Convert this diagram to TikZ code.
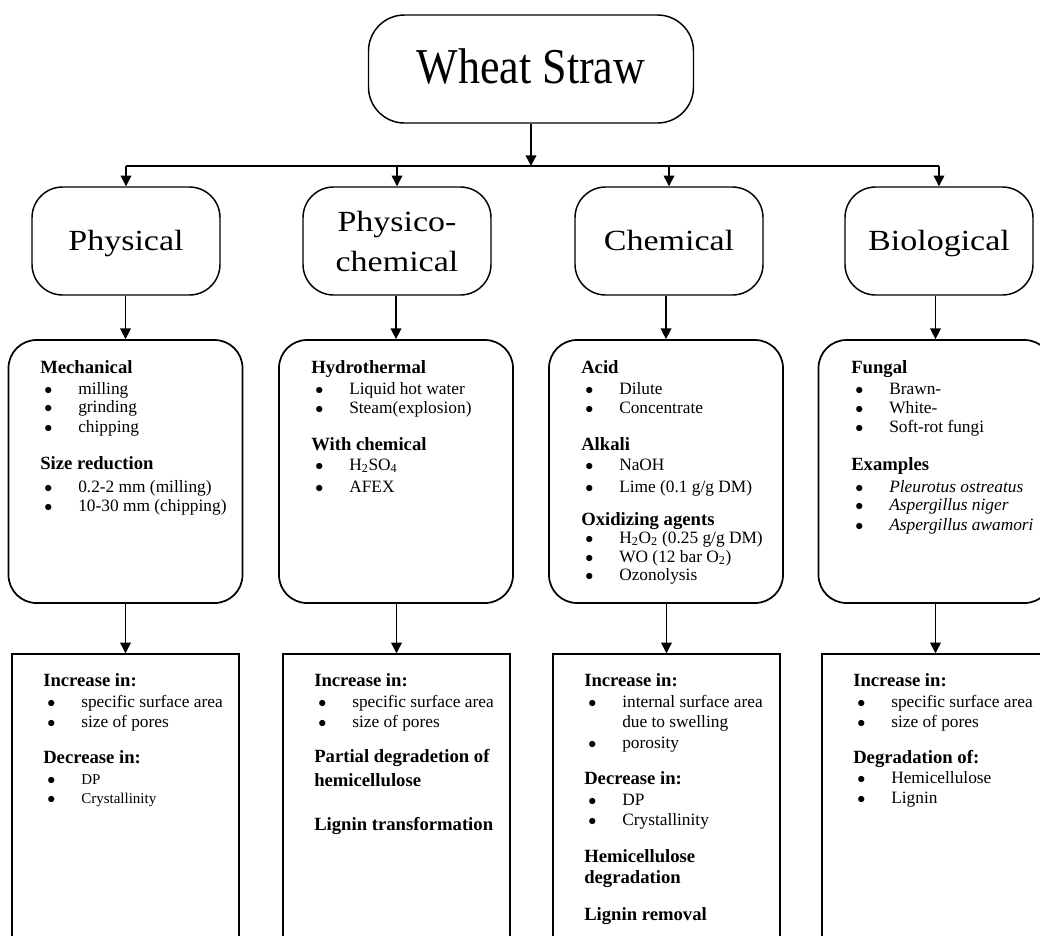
\documentclass[tikz,border=0pt]{standalone}
\usepackage{fontspec}
\setmainfont{Liberation Serif}
\usetikzlibrary{arrows.meta}
\newcommand{\bul}{\makebox[28.5pt][l]{\fontsize{13}{13}\selectfont\hspace{3pt}$\bullet$}}
\newcommand{\HL}[2]{{\fontsize{14}{#1}\selectfont\bfseries #2\par}}
\newcommand{\IL}[2]{{\fontsize{13}{#1}\selectfont\bul#2\par}}
\newcommand{\SL}[2]{{\fontsize{11.25}{#1}\selectfont\bul#2\par}}
\newcommand{\CL}[2]{{\fontsize{13}{#1}\selectfont\hspace*{28.5pt}#2\par}}
\newcommand{\Tx}[1]{\begin{minipage}[t]{160pt}\setlength{\parindent}{0pt}\setlength{\parskip}{0pt}#1\end{minipage}}
\newcommand{\cs}[1]{\scalebox{1}[0.86]{#1}}
\begin{document}
\begin{tikzpicture}[x=0.75pt,y=-0.75pt,
  topbox/.style={draw, line width=1.1pt, rounded corners=27pt, inner sep=0pt,
    minimum width=243.75pt, minimum height=81pt, text height=25.5pt, text depth=4.5pt,
    font=\fontsize{33}{38}\selectfont},
  catbox/.style={draw, line width=1.1pt, rounded corners=23pt, inner sep=0pt, align=center,
    minimum width=141pt, minimum height=81pt, font=\fontsize{25.5}{30}\selectfont},
  oneline/.style={text height=16pt, text depth=2pt},
  detbox/.style={draw, line width=1.3pt, rounded corners=21pt, inner sep=0pt,
    minimum width=175.5pt, minimum height=197.25pt},
  resbox/.style={draw, line width=1.1pt, inner sep=0pt,
    minimum width=170.25pt, minimum height=229.5pt},
  txt/.style={anchor=base west, inner sep=0pt},
  arr/.style={line width=1pt, -{Triangle[length=8pt,width=8pt]}},
  ln/.style={line width=1pt}]
\useasboundingbox (0,0) rectangle (1040,936);

\node[topbox] (ws) at (531,69) {\scalebox{1}[1.14]{Wheat Straw}};

\node[catbox, oneline] (c1) at (126,241) {\cs{Physical}};
\node[catbox] (c2) at (397,241) {\cs{Physico-}\\\cs{chemical}};
\node[catbox, oneline] (c3) at (669,241) {\cs{Chemical}};
\node[catbox, oneline] (c4) at (939,241) {\cs{Biological}};

\node[detbox] (d1) at (125.5,471.5) {};
\node[detbox] (d2) at (396,471.5) {};
\node[detbox] (d3) at (666,471.5) {};
\node[detbox] (d4) at (935.5,471.5) {};

\node[resbox] (r1) at (125.5,807) {};
\node[resbox] (r2) at (396.5,807) {};
\node[resbox] (r3) at (666.5,807) {};
\node[resbox] (r4) at (935.5,807) {};

\coordinate (j) at (531,166);
\draw[arr] (ws.south) -- (j);
\draw[ln] (c1.north |- j) -- (c4.north |- j);
\foreach \i in {1,2,3,4}{
  \draw[arr] (c\i.north |- j) -- (c\i.north);
  \draw[arr] (d\i.north |- c\i.south) -- (d\i.north);
  \draw[arr] (r\i.north |- d\i.south) -- (r\i.north);
}

\node[txt] (t1) at (40,373) {\Tx{%
\HL{16}{Mechanical}
\IL{15.75}{milling}
\IL{13.5}{grinding}
\IL{15}{chipping}
\HL{27.75}{Size reduction}
\IL{17.25}{0.2-2 mm (milling)}
\IL{14.25}{10-30 mm (chipping)}}};

\node[txt] (t2) at (311,373) {\Tx{%
\HL{16}{Hydrothermal}
\IL{15.75}{Liquid hot water}
\IL{14.25}{Steam(explosion)}
\HL{27.75}{With chemical}
\IL{15}{H\textsubscript{2}SO\textsubscript{4}}
\IL{16.5}{AFEX}}};

\node[txt] (t3) at (581,373) {\Tx{%
\HL{16}{Acid}
\IL{15.75}{Dilute}
\IL{14.25}{Concentrate}
\HL{27.75}{Alkali}
\IL{15}{NaOH}
\IL{16.5}{Lime (0.1 g/g DM)}
\HL{24.75}{Oxidizing agents}
\IL{13.5}{H\textsubscript{2}O\textsubscript{2} (0.25 g/g DM)}
\IL{14.25}{WO (12 bar O\textsubscript{2})}
\IL{13.5}{Ozonolysis}}};

\node[txt] (t4) at (851,373) {\Tx{%
\HL{16}{Fungal}
\IL{15.75}{Brawn-}
\IL{14.25}{White-}
\IL{14.25}{Soft-rot fungi}
\HL{28.5}{Examples}
\IL{16.5}{\textit{Pleurotus ostreatus}}
\IL{13.5}{\textit{Aspergillus niger}}
\IL{15}{\textit{Aspergillus awamori}}}};

\node[txt] (u1) at (43,686) {\Tx{%
\HL{16}{Increase in:}
\IL{15.75}{specific surface area}
\IL{15}{size of pores}
\HL{27}{Decrease in:}
\SL{15.75}{DP}
\SL{14.25}{Crystallinity}}};

\node[txt] (u2) at (314,686) {\Tx{%
\HL{16}{Increase in:}
\IL{15.75}{specific surface area}
\IL{15}{size of pores}
\HL{26.25}{Partial degradetion of}
\HL{18}{hemicellulose}
\HL{33}{Lignin transformation}}};

\node[txt] (u3) at (584,686) {\Tx{%
\HL{16}{Increase in:}
\IL{15.75}{internal surface area}
\CL{15}{due to swelling}
\IL{15.75}{porosity}
\HL{27}{Decrease in:}
\IL{15.75}{DP}
\IL{15}{Crystallinity}
\HL{27.75}{Hemicellulose}
\HL{15.75}{degradation}
\HL{27.75}{Lignin removal}}};

\node[txt] (u4) at (853,686) {\Tx{%
\HL{16}{Increase in:}
\IL{15.75}{specific surface area}
\IL{15}{size of pores}
\HL{27}{Degradation of:}
\IL{15}{Hemicellulose}
\IL{15}{Lignin}}};
\end{tikzpicture}
\end{document}
